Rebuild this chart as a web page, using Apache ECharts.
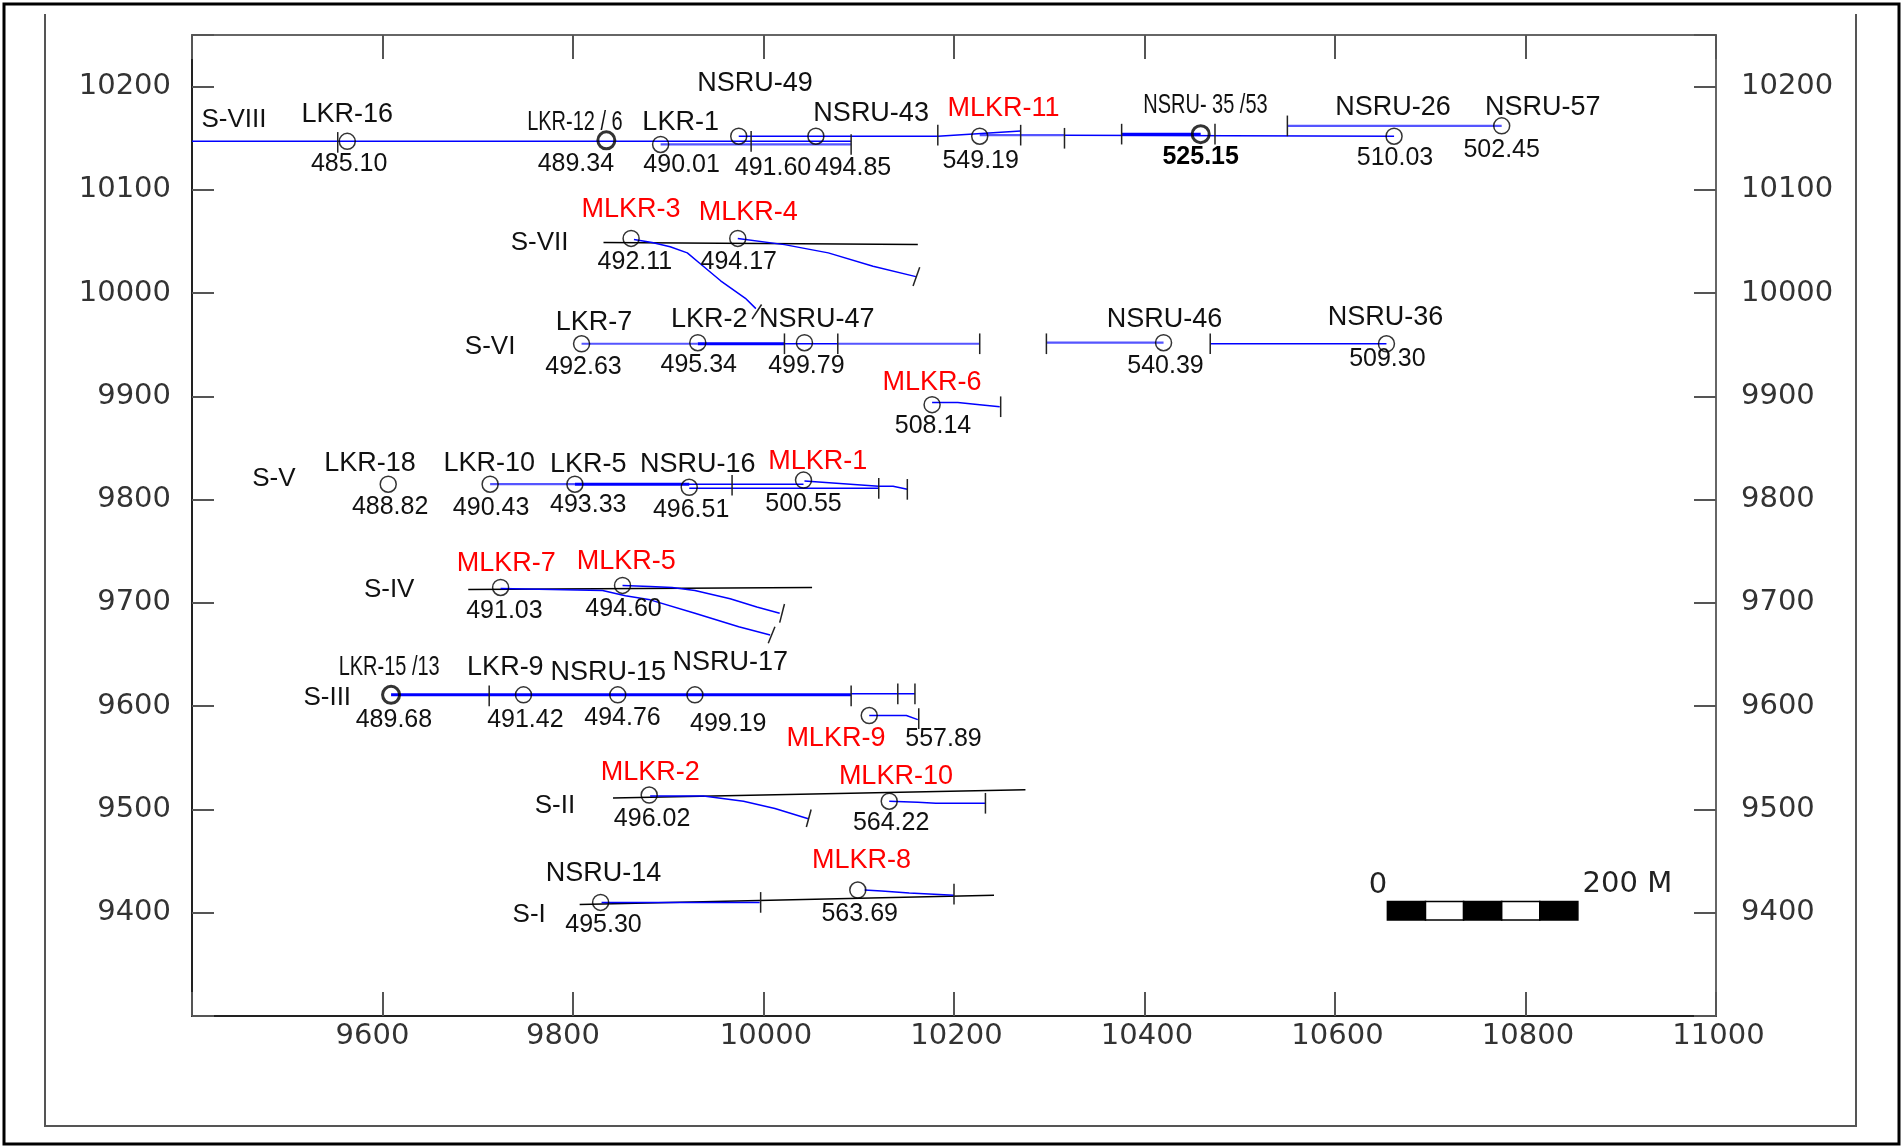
<!DOCTYPE html>
<html><head><meta charset="utf-8">
<script src="https://cdn.jsdelivr.net/npm/echarts@6/dist/echarts.min.js"></script>
<style>html,body{margin:0;padding:0;background:#fff}#c{width:1902px;height:1147px}</style>
</head><body><div id="c"></div>
<script>
// ---------- DATA (map coordinates: easting / northing) ----------
const xTicks = [9600, 9800, 10000, 10200, 10400, 10600, 10800, 11000];
const yTicks = [9400, 9500, 9600, 9700, 9800, 9900, 10000, 10100, 10200];

const holes = [
  [9563,10147],[9892,10144],[9974,10152],[10055,10152],[10227,10152],[10662,10152],[10775,10162],
  [9861,10053],[9973,10053],
  [9809,9951],[9931,9952],[10043,9952],[10420,9952],[10654,9951],
  [10177,9892],
  [9606,9815],[9713,9815],[9802,9815],[9922,9812],[10042,9819],
  [9724,9715],[9852,9717],
  [9748,9611],[9847,9611],[9928,9611],[10111,9591],
  [9880,9514],[10132,9508],
  [9829,9410],[10099,9422]
];
const boldHoles = [[9835,10148],[10459,10154],[9609,9611]];

const blackNames = [
  [9563,10173,'LKR-16'],[9913,10165,'LKR-1'],[9991,10203,'NSRU-49'],[10113,10174,'NSRU-43'],
  [10661,10180,'NSRU-26'],[10818,10180,'NSRU-57'],
  [9822,9972,'LKR-7'],[9943,9974,'LKR-2'],[10056,9974,'NSRU-47'],[10421,9974,'NSRU-46'],[10653,9976,'NSRU-36'],
  [9587,9835,'LKR-18'],[9712,9835,'LKR-10'],[9816,9834,'LKR-5'],[9931,9834,'NSRU-16'],
  [9729,9637,'LKR-9'],[9837,9633,'NSRU-15'],[9965,9642,'NSRU-17'],
  [9832,9438,'NSRU-14']
];
const redNames = [
  [10252,10179,'MLKR-11'],[9861,10081,'MLKR-3'],[9984,10078,'MLKR-4'],[10177,9913,'MLKR-6'],
  [10057,9837,'MLKR-1'],[9730,9738,'MLKR-7'],[9856,9740,'MLKR-5'],[10076,9569,'MLKR-9'],
  [9881,9536,'MLKR-2'],[10139,9532,'MLKR-10'],[10103,9451,'MLKR-8']
];
const narrowNames = [[9802,10165,'LKR-12 / 6'],[10464,10182,'NSRU- 35 /53'],[9607,9637,'LKR-15 /13']];
const sectionNames = [
  [9444,10168,'S-VIII'],[9765,10049,'S-VII'],[9713,9948,'S-VI'],[9486,9820,'S-V'],
  [9607,9713,'S-IV'],[9542,9608,'S-III'],[9781,9504,'S-II'],[9754,9398,'S-I']
];
const elevations = [
  [9565,10125,'485.10'],[9803,10125,'489.34'],[9914,10124,'490.01'],[10010,10121,'491.60'],
  [10094,10121,'494.85'],[10228,10128,'549.19'],[10663,10131,'510.03'],[10775,10139,'502.45'],
  [9865,10030,'492.11'],[9974,10030,'494.17'],
  [9811,9928,'492.63'],[9932,9930,'495.34'],[10045,9929,'499.79'],[10422,9929,'540.39'],[10655,9936,'509.30'],
  [10178,9871,'508.14'],
  [9608,9793,'488.82'],[9714,9792,'490.43'],[9816,9795,'493.33'],[9924,9790,'496.51'],[10042,9796,'500.55'],
  [9728,9692,'491.03'],[9853,9694,'494.60'],
  [9612,9587,'489.68'],[9750,9587,'491.42'],[9852,9588,'494.76'],[9963,9583,'499.19'],[10189,9568,'557.89'],
  [9883,9491,'496.02'],[10134,9487,'564.22'],
  [9832,9388,'495.30'],[10101,9399,'563.69']
];
const boldElevations = [[10459,10132,'525.15']];

const darkTraces = [
  [[9400,10147],[10092,10147]],
  [[9974,10152],[10183,10152],[10270,10157]],
  [[10316,10153],[10662,10152]],
  [[9864,10052],[9883,10049],[9902,10045],[9920,10039],[9933,10029],[9955,10012],[9981,9995],[9992,9985]],
  [[9973,10053],[10022,10047],[10068,10039],[10115,10026],[10160,10016]],
  [[10022,9951],[10078,9951]],
  [[10469,9951],[10654,9951]],
  [[10177,9894],[10204,9894],[10227,9892],[10248,9890]],
  [[9802,9815],[10042,9815]],
  [[9922,9811],[10121,9811]],
  [[10043,9818],[10121,9813],[10136,9813],[10151,9810]],
  [[9724,9714],[9831,9712],[9855,9707],[9881,9703],[9928,9690],[9974,9677],[10007,9669]],
  [[9852,9717],[9881,9716],[9904,9715],[9928,9712],[9965,9704],[9993,9696],[10017,9690]],
  [[10092,9612],[10159,9612]],
  [[10111,9591],[10150,9591],[10162,9587]],
  [[9881,9513],[9937,9513],[9979,9508],[10012,9501],[10047,9491]],
  [[10132,9508],[10162,9507],[10181,9506],[10233,9506]],
  [[9830,9410],[9996,9410]],
  [[10106,9422],[10124,9421],[10153,9419],[10200,9417]]
];
const thickTraces = [
  [[10376,10154],[10459,10154]],
  [[9931,9951],[10022,9951]],
  [[9609,9611],[10092,9611]],
  [[9802,9815],[9922,9815]]
];
const lightTraces = [
  [[9892,10144],[10092,10144]],
  [[10227,10153],[10316,10153]],
  [[10550,10162],[10775,10162]],
  [[9809,9951],[9931,9951]],
  [[10078,9951],[10227,9951]],
  [[10297,9952],[10420,9952]],
  [[9713,9815],[9802,9815]]
];
const sectionLines = [
  [[9832,10049],[10162,10047]],
  [[9690,9713],[10051,9715]],
  [[9842,9511],[10275,9519]],
  [[9807,9408],[10242,9417]]
];
const endTicks = [
  [9553,10146],[9987,10147],[10092,10144],[10183,10153],[10270,10153],[10316,10150],[10376,10154],[10474,10154],[10550,10162],
  [10022,9951],[10078,9951],[10227,9951],[10297,9951],[10469,9951],
  [10249,9890],
  [9967,9814],[10121,9811],[10151,9810],
  [9712,9610],[10092,9610],[10141,9612],[10159,9612],[10163,9588],
  [10233,9506],
  [9997,9410],[10200,9418]
];
const slantTicks = [
  [[9988,9975],[9998,9989]],
  [[10157,10007],[10164,10025]],
  [[10005,9661],[10012,9677]],
  [[10017,9681],[10022,9699]],
  [[10045,9483],[10050,9500]]
];
const scaleBarStops = [10655,10695,10735,10775,10815,10855];
const scaleBarY = [9393,9411];
const scaleLabels = [[10645,9426,'0'],[10907,9427,'200 M']];

// ---------- CHART ----------
const FONT = "'Liberation Sans', Arial, sans-serif";
const AXFONT = "'DejaVu Sans', 'Liberation Sans', sans-serif";
const TICK_HALF = 10;

function lineSeries(coords, color, width, z) {
  return {type:'line', data: coords, symbol:'none', silent:true, animation:false, clip:false,
    lineStyle:{color:color, width:width}, z:z};
}
function textSeries(items, color, size, family, weight, squeeze) {
  return {type:'custom', silent:true, animation:false, z:6,
    data: items.map(d => [d[0], d[1]]),
    renderItem: function (params, api) {
      const p = api.coord([api.value(0), api.value(1)]);
      return {type:'text', x:p[0], y:p[1], scaleX: squeeze || 1,
        style:{x:0, y:0, text: items[params.dataIndex][2], fill: color, fontSize: size, fontFamily: family,
          fontWeight: weight || 'normal', align:'center', verticalAlign:'middle'}};
    }};
}

const series = [];
darkTraces.forEach(c => series.push(lineSeries(c, '#0000ff', 1.5, 3)));
thickTraces.forEach(c => series.push(lineSeries(c, '#0000ff', 3, 3)));
lightTraces.forEach(c => series.push(lineSeries(c, '#5555ff', 2.2, 2)));
sectionLines.forEach(c => series.push(lineSeries(c, '#000000', 1.5, 2)));
endTicks.forEach(t => series.push(lineSeries([[t[0], t[1]-TICK_HALF],[t[0], t[1]+TICK_HALF]], '#222', 1.5, 4)));
slantTicks.forEach(c => series.push(lineSeries(c, '#222', 1.5, 4)));

series.push({type:'scatter', data: holes, symbol:'circle', symbolSize:16, silent:true, animation:false, z:5,
  itemStyle:{color:'rgba(0,0,0,0)', borderColor:'#000', borderWidth:1.5}});
series.push({type:'scatter', data: boldHoles, symbol:'circle', symbolSize:17, silent:true, animation:false, z:5,
  itemStyle:{color:'rgba(0,0,0,0)', borderColor:'#000', borderWidth:3}});

series.push(textSeries(blackNames, '#111', 27, FONT));
series.push(textSeries(redNames, '#ff0000', 27, FONT));
series.push(textSeries(narrowNames, '#111', 27, FONT, 'normal', 0.74));
series.push(textSeries(sectionNames, '#111', 26, FONT));
series.push(textSeries(elevations, '#111', 25, FONT));
series.push(textSeries(boldElevations, '#000', 25, FONT, 'bold'));
series.push(textSeries(scaleLabels, '#222', 29, AXFONT));

series.push({type:'custom', silent:true, animation:false, z:5,
  data: scaleBarStops.slice(0, -1).map((s, i) => [s, scaleBarStops[i+1]]),
  renderItem: function (params, api) {
    const a = api.coord([api.value(0), scaleBarY[1]]);
    const b = api.coord([api.value(1), scaleBarY[0]]);
    return {type:'rect', shape:{x:a[0], y:a[1], width:b[0]-a[0], height:b[1]-a[1]},
      style:{fill: params.dataIndex % 2 === 0 ? '#000' : '#fff', stroke:'#000', lineWidth:1.5}};
  }});

const axisLabelBase = {fontSize:29, color:'#333', fontFamily: AXFONT};
const yFmt = v => (yTicks.indexOf(v) >= 0 ? String(v) : '');

const option = {
  backgroundColor:'#fff',
  animation:false,
  grid:{left:192, top:35, right:186, bottom:131, show:false},
  xAxis:[
    {type:'value', min:9400, max:11000, interval:200, position:'bottom',
     axisLine:{show:true, lineStyle:{color:'#222', width:2}},
     axisTick:{show:true, inside:true, length:24, lineStyle:{color:'#555', width:2}},
     splitLine:{show:false},
     axisLabel:Object.assign({}, axisLabelBase, {margin:6,
       formatter: v => xTicks.indexOf(v) < 0 ? '' : (v < 10000 ? '{s|' + v + '}' : '{n|' + v + '}'),
       rich:{s:{fontSize:29, color:'#333', fontFamily:AXFONT, padding:[0,20,0,0]},
             n:{fontSize:29, color:'#333', fontFamily:AXFONT, padding:[0,0,0,5]}}})},
    {type:'value', min:9400, max:11000, interval:200, position:'top',
     axisLine:{show:true, lineStyle:{color:'#666', width:2}},
     axisTick:{show:true, inside:true, length:24, lineStyle:{color:'#555', width:2}},
     splitLine:{show:false}, axisLabel:{show:false}}
  ],
  yAxis:[
    {type:'value', min:9300, max:10250, interval:100, position:'left',
     axisLine:{show:true, lineStyle:{color:'#222', width:2}},
     axisTick:{show:true, inside:true, length:22, lineStyle:{color:'#555', width:2}},
     splitLine:{show:false},
     axisLabel:Object.assign({}, axisLabelBase, {margin:21, formatter:yFmt})},
    {type:'value', min:9300, max:10250, interval:100, position:'right',
     axisLine:{show:true, lineStyle:{color:'#666', width:2}},
     axisTick:{show:true, inside:true, length:22, lineStyle:{color:'#555', width:2}},
     splitLine:{show:false},
     axisLabel:Object.assign({}, axisLabelBase, {margin:25, formatter:yFmt, padding:[0,0,18,0]})}
  ],
  graphic:[
    {type:'rect', silent:true, shape:{x:4, y:4, width:1895, height:1140}, style:{fill:'none', stroke:'#000', lineWidth:3}},
    {type:'polyline', silent:true, shape:{points:[[45,14],[45,1126],[1856,1126],[1856,14]]}, style:{fill:'none', stroke:'#555', lineWidth:2}}
  ],
  series: series
};
const chart = echarts.init(document.getElementById('c'));
chart.setOption(option);
</script></body></html>
